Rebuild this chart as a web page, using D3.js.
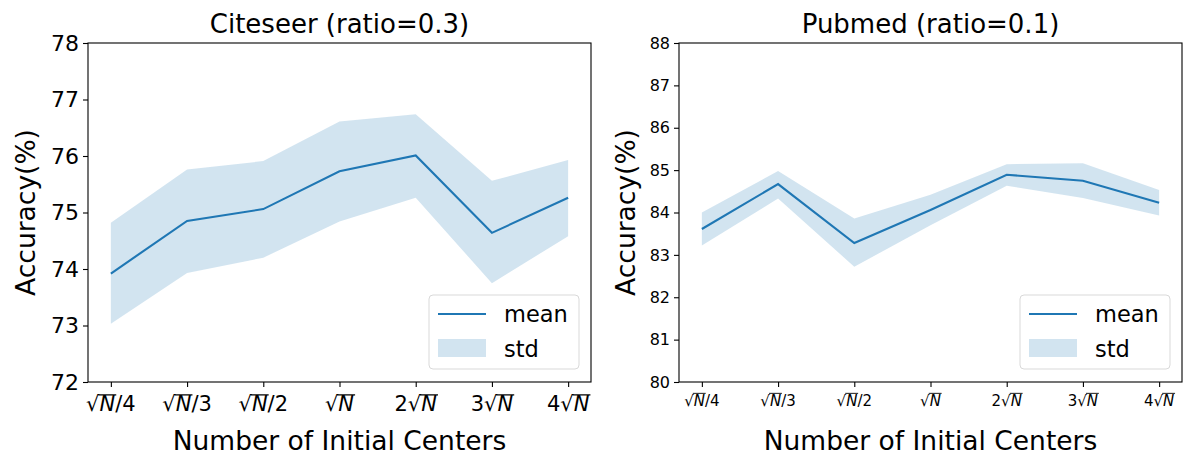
<!DOCTYPE html>
<html>
<head>
<meta charset="utf-8">
<script src="https://cdn.jsdelivr.net/npm/d3@7"></script>
<style>
  body { margin: 0; background: #fff; }
  text { font-family: "DejaVu Sans", sans-serif; fill: #000; }
</style>
</head>
<body>
<svg id="fig" width="1196" height="474"></svg>
<script>
// tick labels shared by both panels
var centers = ["√N/4", "√N/3", "√N/2", "√N", "2√N", "3√N", "4√N"];

// Citeseer (ratio=0.3)
var citeMean  = [73.92, 74.85, 75.06, 75.73, 76.01, 74.64, 75.26];
var citeUpper = [74.82, 75.76, 75.91, 76.61, 76.74, 75.56, 75.93];
var citeLower = [73.03, 73.93, 74.20, 74.84, 75.26, 73.75, 74.58];
var citeTicks = [72, 73, 74, 75, 76, 77, 78];

// Pubmed (ratio=0.1)
var pubMean  = [83.61, 84.67, 83.28, 84.06, 84.89, 84.75, 84.23];
var pubUpper = [84.00, 84.98, 83.86, 84.42, 85.14, 85.16, 84.53];
var pubLower = [83.22, 84.33, 82.72, 83.70, 84.63, 84.34, 83.93];
var pubTicks = [80, 81, 82, 83, 84, 85, 86, 87, 88];

var blue = "#1f77b4";
var svg = d3.select("#fig");

var panels = [
  {title: "Citeseer (ratio=0.3)", left: 88, ylab: -53, mean: citeMean, upper: citeUpper, lower: citeLower,
   ticks: citeTicks, yfont: 22, xfont: 21},
  {title: "Pubmed (ratio=0.1)", left: 679, ylab: -44, mean: pubMean, upper: pubUpper, lower: pubLower,
   ticks: pubTicks, yfont: 16, xfont: 15}
];

var plotTop = 43, h = 339, w = 503;

panels.forEach(function(p) {
  var g = svg.append("g").attr("transform", "translate(" + p.left + "," + plotTop + ")");

  var x = d3.scaleLinear().domain([-0.3, centers.length - 1 + 0.3]).range([0, w]);
  var y = d3.scaleLinear().domain(d3.extent(p.ticks)).range([h, 0]);

  var area = d3.area()
      .x(function(d, i) { return x(i); })
      .y0(function(d, i) { return y(p.lower[i]); })
      .y1(function(d, i) { return y(p.upper[i]); });

  var line = d3.line()
      .x(function(d, i) { return x(i); })
      .y(function(d) { return y(d); });

  g.append("path")
      .datum(p.mean)
      .attr("d", area)
      .attr("fill", blue)
      .attr("fill-opacity", 0.2);

  g.append("path")
      .datum(p.mean)
      .attr("d", line)
      .attr("fill", "none")
      .attr("stroke", blue)
      .attr("stroke-width", 2.1);

  // y axis
  var yAxis = g.append("g")
      .call(d3.axisLeft(y).tickValues(p.ticks).tickSize(5).tickPadding(4).tickFormat(d3.format("d")));
  yAxis.select(".domain").remove();
  yAxis.selectAll("line").attr("stroke", "#000").attr("stroke-width", 1.1);
  yAxis.selectAll("text").style("font-size", p.yfont + "px")
      .style("font-family", "DejaVu Sans");

  // x axis, math-style labels
  var xAxis = g.append("g")
      .attr("transform", "translate(0," + h + ")")
      .call(d3.axisBottom(x).tickValues(d3.range(centers.length)).tickSize(5).tickFormat(""));
  xAxis.select(".domain").remove();
  xAxis.selectAll("line").attr("stroke", "#000").attr("stroke-width", 1.1);

  centers.forEach(function(lab, i) {
    var parts = lab.split("√N");
    var t = g.append("text")
        .attr("x", x(i))
        .attr("y", h + 9 + p.xfont * 0.97)
        .attr("text-anchor", "middle")
        .style("font-size", p.xfont + "px");
    t.append("tspan").text(parts[0]);
    t.append("tspan").text("√");
    t.append("tspan").style("font-style", "italic").text("N");
    t.append("tspan").text(parts[1]);
    // vinculum over N
    var ri = parts[0].length, ni = ri + 1;
    var rb = t.node().getExtentOfChar(ri), nb = t.node().getExtentOfChar(ni);
    var ty = nb.y + p.xfont * 0.12;
    g.append("line")
        .attr("x1", rb.x + rb.width - p.xfont * 0.06).attr("x2", nb.x + nb.width + p.xfont * 0.05)
        .attr("y1", ty).attr("y2", ty)
        .attr("stroke", "#000").attr("stroke-width", p.xfont * 0.06);
  });

  // spines
  g.append("rect")
      .attr("width", w).attr("height", h)
      .attr("fill", "none").attr("stroke", "#000").attr("stroke-width", 1.1);

  // title and labels
  g.append("text")
      .attr("x", w / 2).attr("y", -10)
      .attr("text-anchor", "middle")
      .style("font-size", "26px")
      .text(p.title);

  g.append("text")
      .attr("x", w / 2).attr("y", h + 68)
      .attr("text-anchor", "middle")
      .style("font-size", "26.5px")
      .text("Number of Initial Centers");

  g.append("text")
      .attr("transform", "translate(" + p.ylab + "," + (h / 2) + ") rotate(-90)")
      .attr("text-anchor", "middle")
      .style("font-size", "26.5px")
      .text("Accuracy(%)");

  // legend
  var lg = g.append("g").attr("transform", "translate(" + (w - 162) + "," + (h - 87) + ")");
  lg.append("rect")
      .attr("width", 150).attr("height", 74).attr("rx", 4)
      .attr("fill", "#fff").attr("fill-opacity", 0.8)
      .attr("stroke", "#d9d9d9").attr("stroke-width", 1);
  lg.append("line")
      .attr("x1", 9).attr("x2", 57).attr("y1", 19).attr("y2", 19)
      .attr("stroke", blue).attr("stroke-width", 2.1);
  lg.append("rect")
      .attr("x", 9).attr("y", 44).attr("width", 48).attr("height", 18)
      .attr("fill", blue).attr("fill-opacity", 0.2);
  lg.append("text").attr("x", 75).attr("y", 27).style("font-size", "22.5px").text("mean");
  lg.append("text").attr("x", 75).attr("y", 62).style("font-size", "22.5px").text("std");
});
</script>
</body>
</html>
